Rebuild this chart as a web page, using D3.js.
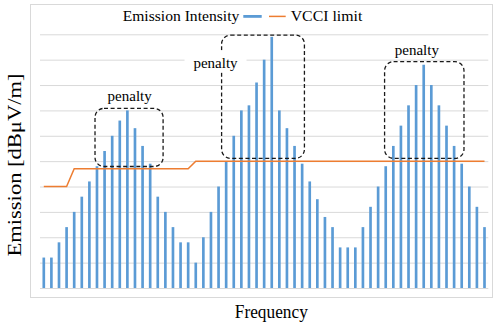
<!DOCTYPE html>
<html>
<head>
<meta charset="utf-8">
<script src="https://cdn.jsdelivr.net/npm/d3@7"></script>
<style>
  body { margin: 0; background: #fff; }
  text { font-family: "Liberation Serif", "Times New Roman", serif; fill: #000; }
</style>
</head>
<body>
<div id="chart"></div>
<script>
// emission level per frequency bin (no tick labels on either axis)
const emission = [
  1.2, 1.2, 1.8, 2.4, 3.0, 3.6, 4.2, 4.8, 5.4, 6.0, 6.6, 7.0, 6.3, 5.6, 4.9, 3.6, 3.0, 2.4, 1.8, 1.8,
  1.0, 2.0, 3.0, 4.0, 5.0, 6.0, 7.0, 7.2, 8.1, 9.0, 9.9, 7.0, 6.3, 5.6, 4.9, 4.2, 3.5, 2.8, 2.4, 1.6,
  1.6, 1.6, 2.4, 3.2, 4.0, 4.8, 5.6, 6.4, 7.2, 8.0, 8.8, 8.0, 7.2, 6.4, 5.6, 4.9, 4.0, 3.2, 2.4
];
const vcciLimit = [
  4.0, 4.0, 4.0, 4.0, 4.7, 4.7, 4.7, 4.7, 4.7, 4.7, 4.7, 4.7, 4.7, 4.7, 4.7, 4.7, 4.7, 4.7, 4.7, 4.7,
  5.0, 5.0, 5.0, 5.0, 5.0, 5.0, 5.0, 5.0, 5.0, 5.0, 5.0, 5.0, 5.0, 5.0, 5.0, 5.0, 5.0, 5.0, 5.0, 5.0,
  5.0, 5.0, 5.0, 5.0, 5.0, 5.0, 5.0, 5.0, 5.0, 5.0, 5.0, 5.0, 5.0, 5.0, 5.0, 5.0, 5.0, 5.0, 5.0
];
const yTicks = [0, 1, 2, 3, 4, 5, 6, 7, 8, 9, 10];
// penalty boxes in data units: bin range and value range
const penaltyBoxes = [
  { from: 6.74, to: 15.7, top: 7.08, bottom: 4.79 },
  { from: 23.4, to: 34.3, top: 9.97, bottom: 5.11 },
  { from: 44.85, to: 55.3, top: 8.92, bottom: 5.11 }
];
const penaltyLabels = [
  { bin: 11.3, value: 7.38, text: "penalty", knockout: false },
  { bin: 22.6, value: 8.66, text: "penalty", knockout: true },
  { bin: 49.1, value: 9.18, text: "penalty", knockout: false }
];

const W = 494, H = 322;
const plot = { left: 40, right: 488.3, top: 34.3, bottom: 288 };

const svg = d3.select("#chart").append("svg")
  .attr("width", W).attr("height", H);

svg.append("rect").attr("width", W).attr("height", H).attr("fill", "#fff");

// chart frame
svg.append("rect")
  .attr("x", 30.5).attr("y", 4.5)
  .attr("width", 462).attr("height", 293)
  .attr("fill", "none").attr("stroke", "#d9d9d9").attr("stroke-width", 1);

const bins = emission.map((_, i) => i);

const x = d3.scaleBand()
  .domain(bins)
  .range([plot.left, plot.right])
  .padding(0);
const cx = i => x(0) + x.bandwidth() * (i + 0.5);

const y = d3.scaleLinear()
  .domain([0, 10])
  .range([plot.bottom, plot.top]);

// gridlines
svg.append("g")
  .attr("transform", `translate(${plot.left},0)`)
  .call(d3.axisLeft(y).tickValues(yTicks).tickSize(-(plot.right - plot.left)).tickFormat(""))
  .call(g => g.select(".domain").remove())
  .call(g => g.selectAll("line").attr("stroke", "#d9d9d9").attr("stroke-width", 1));

// bars
const barW = x.bandwidth() * 0.35;
svg.selectAll(".bar")
  .data(emission)
  .enter()
  .append("rect")
  .attr("class", "bar")
  .attr("x", (d, i) => cx(i) - barW / 2)
  .attr("y", d => y(d))
  .attr("width", barW)
  .attr("height", d => y(0) - y(d))
  .attr("fill", "#5b9bd5");

// VCCI limit line
svg.append("path")
  .datum(vcciLimit)
  .attr("fill", "none")
  .attr("stroke", "#ed7d31")
  .attr("stroke-width", 1.5)
  .attr("d", d3.line().x((d, i) => cx(i)).y(d => y(d)));

// penalty boxes
svg.selectAll(".pbox")
  .data(penaltyBoxes)
  .enter()
  .append("rect")
  .attr("class", "pbox")
  .attr("x", d => cx(d.from))
  .attr("y", d => y(d.top))
  .attr("width", d => cx(d.to) - cx(d.from))
  .attr("height", d => y(d.bottom) - y(d.top))
  .attr("rx", 9).attr("ry", 9)
  .attr("fill", "none")
  .attr("stroke", "#1a1a1a")
  .attr("stroke-width", 1.3)
  .attr("stroke-dasharray", "4,2.6");

// penalty labels
const lab = svg.selectAll(".plabel")
  .data(penaltyLabels)
  .enter()
  .append("g")
  .attr("class", "plabel")
  .attr("transform", d => `translate(${cx(d.bin)},${y(d.value)})`);

lab.filter(d => d.knockout)
  .append("rect")
  .attr("x", -31).attr("y", -18)
  .attr("width", 62).attr("height", 22)
  .attr("fill", "#fff");

lab.append("text")
  .attr("text-anchor", "middle")
  .style("font-size", "15px")
  .text(d => d.text);

// legend
const legend = svg.append("g");
legend.append("text")
  .attr("x", 239.3).attr("y", 20.5)
  .attr("text-anchor", "end")
  .attr("textLength", 116.6).attr("lengthAdjust", "spacingAndGlyphs")
  .style("font-size", "15.5px")
  .text("Emission Intensity");
legend.append("rect")
  .attr("x", 243.3).attr("y", 15)
  .attr("width", 18.4).attr("height", 2.8)
  .attr("fill", "#5b9bd5");
legend.append("line")
  .attr("x1", 269).attr("x2", 285.7)
  .attr("y1", 16.4).attr("y2", 16.4)
  .attr("stroke", "#ed7d31").attr("stroke-width", 1.5);
legend.append("text")
  .attr("x", 290.7).attr("y", 20.5)
  .attr("textLength", 71.6).attr("lengthAdjust", "spacingAndGlyphs")
  .style("font-size", "15.5px")
  .text("VCCI limit");

// axis titles
svg.append("text")
  .attr("transform", "translate(20.7,165) rotate(-90)")
  .attr("text-anchor", "middle")
  .attr("textLength", 183).attr("lengthAdjust", "spacingAndGlyphs")
  .style("font-size", "18px")
  .text("Emission [dBμV/m]");

svg.append("text")
  .attr("x", 271.3).attr("y", 318.3)
  .attr("text-anchor", "middle")
  .attr("textLength", 73).attr("lengthAdjust", "spacingAndGlyphs")
  .style("font-size", "18px")
  .text("Frequency");
</script>
</body>
</html>
